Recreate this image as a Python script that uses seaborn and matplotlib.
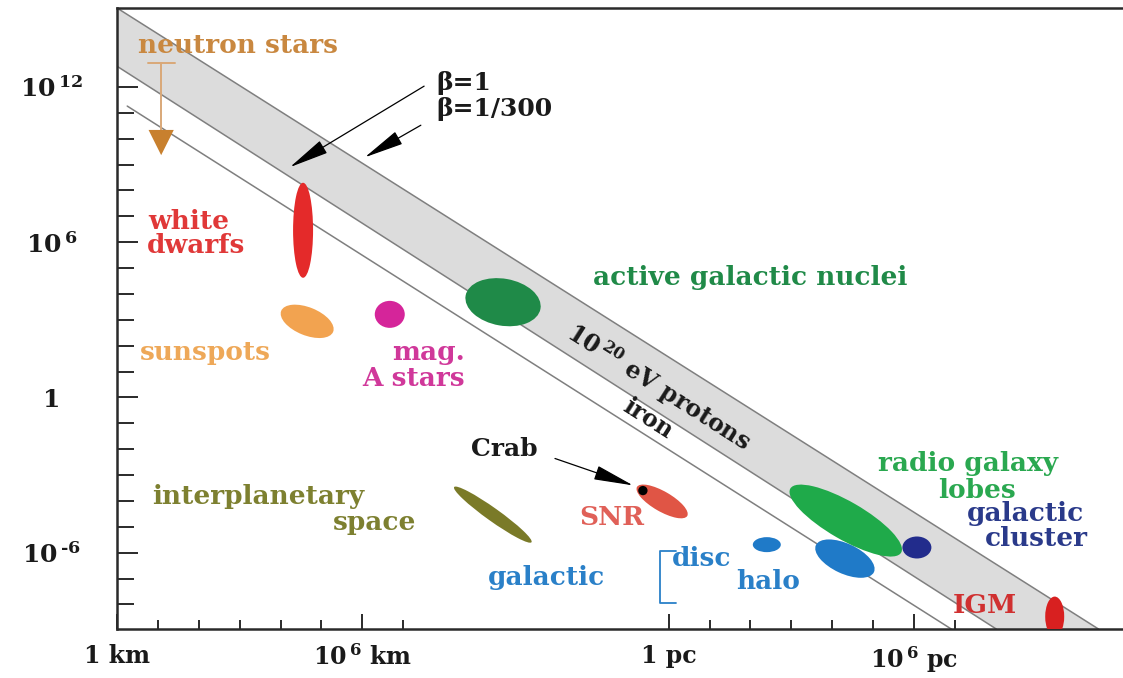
import numpy as np
import pandas as pd
import matplotlib
matplotlib.use("Agg")
import matplotlib.pyplot as plt
from matplotlib.patches import Ellipse
from matplotlib import transforms
import seaborn as sns

# ---------------- data: x = log10(size / km), y = log10(B / Gauss) ----------------
line_names = ["beta=1/300", "beta=1", "iron"]
line_x_start = [0.0, 0.0, 0.25]
line_y_start = [15.05, 12.8, 11.26]
line_x_end = [24.0, 21.5, 20.4]
line_y_end = [-8.95, -8.95, -8.95]

obj_names = ["white dwarfs", "sunspots", "mag. A stars", "active galactic nuclei",
             "interplanetary space", "SNR", "galactic disc", "galactic halo",
             "radio galaxy lobes", "galactic cluster", "IGM"]
obj_logL = [4.55, 4.65, 6.67, 9.44, 9.19, 13.33, 15.89, 17.80, 17.82, 19.56, 22.93]
obj_logB = [6.46, 2.94, 3.21, 3.68, -4.53, -4.02, -5.69, -6.23, -4.76, -5.80, -8.47]

crab_logL = [12.86]
crab_logB = [-3.60]

ns_logL = [1.08]
ns_logB_top = [12.92]
ns_logB_bottom = [10.25]
ns_logB_limit = [9.85]

x_major = [0.0, 6.0, 13.49, 19.49]
x_labels = ["1 km", r"$10^{\,6}$ km", "1 pc", r"$10^{\,6}$ pc"]
x_minor = [1, 2, 3, 4, 5, 7, 14.49, 15.49, 16.49, 17.49, 18.49, 20.49, 21.49, 22.49, 23.49]
y_major = [12, 6, 0, -6]
y_labels = [r"$10^{\,12}$", r"$10^{\,6}$", "1", r"$10^{\,\text{-}6}$"]
y_minor = [-8, -7, -5, -4, -3, -2, -1, 1, 2, 3, 4, 5, 7, 8, 9, 10, 11, 13, 14]

# ---------------- styles ----------------
# ellipse sizes in pixels (length, width, angle in degrees) and colours
obj_w = [20, 56, 30, 76, 95, 58, 28, 64, 128, 29, 19]
obj_h = [95, 28, 27, 47, 13, 20, 15, 30, 38, 22, 40]
obj_ang = [0, -22, 0, -10, -35.5, -30, 0, -25, -30, 0, 0]
obj_col = ["#e42a2a", "#f2a350", "#d5259a", "#1f8a48", "#7a7a28", "#e05545",
           "#1f7ac8", "#1f7ac8", "#1faa4a", "#222c8c", "#d82020"]

sns.set_theme(style="white")
plt.rcParams["font.family"] = ["DejaVu Serif"]
plt.rcParams["font.weight"] = "bold"
plt.rcParams["mathtext.fontset"] = "custom"
plt.rcParams["mathtext.rm"] = "DejaVu Serif:bold"
plt.rcParams["mathtext.bf"] = "DejaVu Serif:bold"
plt.rcParams["mathtext.it"] = "DejaVu Serif:bold:italic"

W, H = 1123, 678
fig = plt.figure(figsize=(W / 100, H / 100), dpi=100)
ax = fig.add_axes([117 / W, (H - 629) / H, (W - 117) / W, (629 - 8) / H])
ax.set_xlim(0, 24.6)
ax.set_ylim(-8.95, 15.05)

# band between beta=1 and beta=1/300
band_x = [line_x_start[0], line_x_end[0], line_x_end[1], line_x_start[1]]
band_y = [line_y_start[0], line_y_end[0], line_y_end[1], line_y_start[1]]
ax.fill(band_x, band_y, color="#dcdcdc", zorder=1, lw=0)

lines_df = pd.DataFrame({
    "line": line_names * 2,
    "logL": line_x_start + line_x_end,
    "logB": line_y_start + line_y_end,
})
sns.lineplot(data=lines_df, x="logL", y="logB", units="line", estimator=None,
             sort=False, color="#7f7f7f", lw=1.1, ax=ax, zorder=2, legend=False)

# objects as ellipses (size in pixels, centred on data position)
for x, y, w, h, a, c in zip(obj_logL, obj_logB, obj_w, obj_h, obj_ang, obj_col):
    tr = transforms.Affine2D().scale(fig.dpi / 100) + transforms.ScaledTranslation(x, y, ax.transData)
    e = Ellipse((0, 0), w, h, angle=a, transform=tr, facecolor=c, edgecolor="none", zorder=3)
    ax.add_patch(e)

# Crab dot
sns.scatterplot(x=crab_logL, y=crab_logB, color="black", s=45, edgecolor="none", ax=ax, zorder=4)

# neutron star upper limit
ax.plot([ns_logL[0], ns_logL[0]], [ns_logB_top[0], ns_logB_bottom[0]], color="#d9a878", lw=1.4, zorder=3)
ax.plot([ns_logL[0] - 0.33, ns_logL[0] + 0.33], [ns_logB_top[0], ns_logB_top[0]], color="#d9a878", lw=1.4, zorder=3)
sns.scatterplot(x=ns_logL, y=ns_logB_limit, marker="v", s=330, color="#c8802e", edgecolor="none", ax=ax, zorder=4)

# arrows
arrow_kw = dict(arrowstyle="-|>,head_length=2.5,head_width=0.45", color="black", lw=0.9,
                shrinkA=0, shrinkB=0, mutation_scale=10)
ax.annotate("", xy=(4.23, 8.90), xytext=(7.51, 12.03), arrowprops=arrow_kw, zorder=5)
ax.annotate("", xy=(6.06, 9.28), xytext=(7.43, 10.52), arrowprops=arrow_kw, zorder=5)
ax.annotate("", xy=(12.62, -3.40), xytext=(10.71, -2.36), arrowprops=arrow_kw, zorder=5)

# galactic bracket
ax.plot([13.67, 13.28, 13.28, 13.67], [-5.92, -5.92, -7.93, -7.93], color="#2a80c8", lw=1.3, zorder=3)

fs = 19
def lab(x, y, s, c, ha="left", size=fs, **kw):
    ax.text(x, y, s, color=c, ha=ha, va="center", fontsize=size, fontweight="bold", zorder=6, **kw)

lab(0.51, 13.62, "neutron stars", "#c98840")
lab(0.76, 6.81, "white", "#e03838")
lab(0.73, 5.88, "dwarfs", "#e03838")
lab(0.56, 1.74, "sunspots", "#eea858")
lab(8.51, 1.74, "mag.", "#d0389a", ha="right")
lab(8.51, 0.74, "A stars", "#d0389a", ha="right")
lab(15.48, 4.64, "active galactic nuclei", "#208a48", ha="center")
lab(7.82, 12.15, "β=1", "#1a1a1a", size=18)
lab(7.82, 11.14, "β=1/300", "#1a1a1a", size=18)
lab(13.25, 0.39, r"$10^{\,20}$ eV protons", "#1a1a1a", ha="center", size=17, rotation=-32.5,
    rotation_mode="anchor")
lab(12.98, -0.81, "iron", "#1a1a1a", ha="center", size=17, rotation=-32.5, rotation_mode="anchor")
lab(9.46, -2.01, "Crab", "#1a1a1a", ha="center", size=18)
lab(0.86, -3.83, "interplanetary", "#7d8030")
lab(5.28, -4.84, "space", "#7d8030")
lab(12.10, -4.64, "SNR", "#e06058", ha="center")
lab(10.51, -6.96, "galactic", "#2a80c8", ha="center")
lab(13.57, -6.23, "disc", "#2a80c8")
lab(15.13, -7.12, "halo", "#2a80c8")
lab(20.81, -2.55, "radio galaxy", "#2aa850", ha="center")
lab(21.03, -3.60, "lobes", "#2aa850", ha="center")
lab(22.22, -4.49, "galactic", "#2a3a8a", ha="center")
lab(22.47, -5.45, "cluster", "#2a3a8a", ha="center")
lab(21.22, -8.05, "IGM", "#d03030", ha="center")

# axes styling
for sp in ["left", "top", "bottom"]:
    ax.spines[sp].set_visible(True)
    ax.spines[sp].set_color("#2a2a2a")
    ax.spines[sp].set_linewidth(1.8)
ax.spines["right"].set_visible(False)

ax.set_xticks(x_major)
ax.set_xticklabels(x_labels)
ax.set_xticks(x_minor, minor=True)
ax.set_yticks(y_major)
ax.set_yticklabels(y_labels)
ax.set_yticks(y_minor, minor=True)
ax.set_xlabel("")
ax.set_ylabel("")

ax.tick_params(axis="x", which="major", direction="in", length=11, width=1.4, color="#2a2a2a",
               pad=11, labelsize=17, bottom=True)
ax.tick_params(axis="x", which="minor", direction="in", length=6.5, width=1.4, color="#2a2a2a", bottom=True)
ax.tick_params(axis="y", which="major", direction="in", length=15, width=1.4, color="#2a2a2a",
               pad=47, labelsize=18, left=True)
ax.tick_params(axis="y", which="minor", direction="in", length=12.5, width=1.4, color="#2a2a2a", left=True)
for t in ax.get_yticklabels():
    t.set_horizontalalignment("center")
for t in ax.get_xticklabels() + ax.get_yticklabels():
    t.set_fontweight("bold")
    t.set_color("#1a1a1a")

fig.savefig("out.png", dpi=100)
